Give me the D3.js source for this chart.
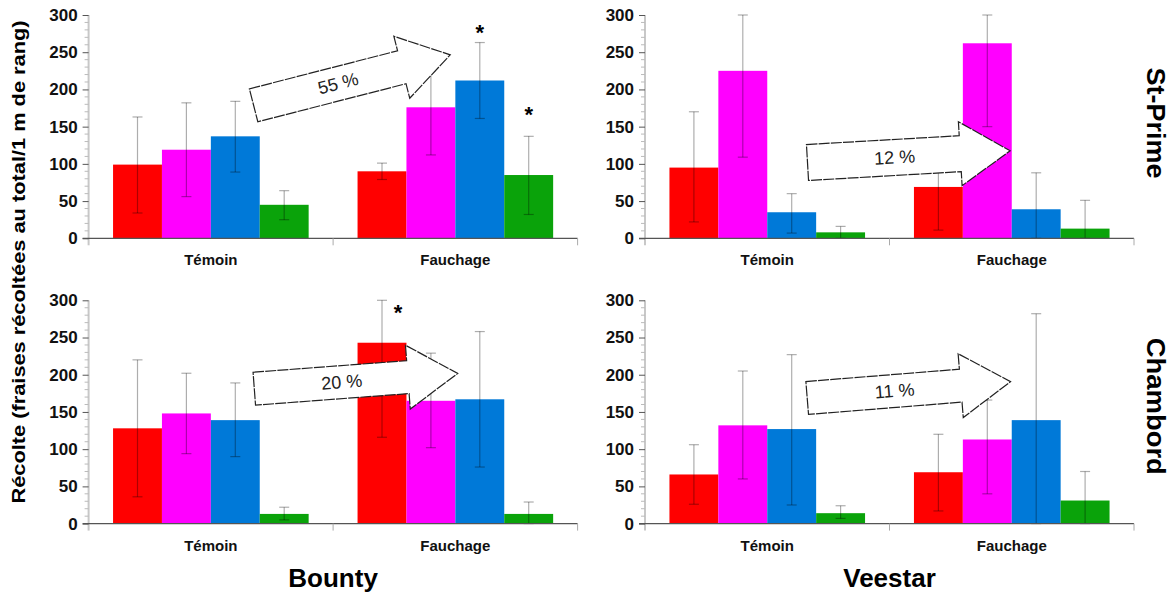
<!DOCTYPE html>
<html>
<head>
<meta charset="utf-8">
<script src="https://cdn.jsdelivr.net/npm/d3@7"></script>
<style>
  body { margin: 0; background: #fff; }
  svg { font-family: "Liberation Sans", Arial, sans-serif; }
</style>
</head>
<body>
<svg id="chart" width="1173" height="596"></svg>
<script>
const groups = ["Témoin", "Fauchage"];
const series = ["s1", "s2", "s3", "s4"];
const cultivars = ["Bounty", "Veestar"];
const sites = ["St-Prime", "Chambord"];
const yTicks = [0, 50, 100, 150, 200, 250, 300];

// mean harvest per group (Témoin, Fauchage) x series, and error bar ends
const stPrimeBounty = [[99, 119, 137, 45], [90, 176, 212, 85]];
const stPrimeBountyLow = [[34, 56, 89, 25], [79, 112, 161, 32]];
const stPrimeBountyHigh = [[163, 182, 184, 64], [101, 225, 263, 137]];

const stPrimeVeestar = [[95, 225, 35, 8], [69, 262, 39, 13]];
const stPrimeVeestarLow = [[22, 109, 7, 0], [11, 150, 0, 0]];
const stPrimeVeestarHigh = [[170, 300, 60, 16], [95, 300, 88, 51]];

const chambordBounty = [[128, 148, 139, 13], [243, 165, 167, 13]];
const chambordBountyLow = [[36, 94, 90, 5], [116, 102, 76, 0]];
const chambordBountyHigh = [[220, 202, 189, 22], [300, 229, 258, 29]];

const chambordVeestar = [[66, 132, 127, 14], [69, 113, 139, 31]];
const chambordVeestarLow = [[26, 60, 25, 7], [17, 40, 0, 0]];
const chambordVeestarHigh = [[106, 205, 227, 24], [120, 166, 282, 70]];

const gains = ["55 %", "12 %", "20 %", "11 %"];

// significance stars: [group, series index, y value]
const stPrimeBountyStars = [["Fauchage", 2, 282], ["Fauchage", 3, 172]];
const chambordBountyStars = [["Fauchage", 0, 290]];

const colors = ["#ff0000", "#ff00ff", "#0079d8", "#0aa30a"];

// layout
const W = 489, H = 223.3;
const colX = [88.6, 645];
const rowY = [15, 300.3];

// arrows drawn in panel pixels: tail centre, angle, length
const arrowLayout = [
  { tx: 165, ty: 90.3, ang: -14.4, len: 203, hw: 17 },
  { tx: 162.5, ty: 147.5, ang: -3.3, len: 203, hw: 18 },
  { tx: 165.7, ty: 88.4, ang: -4.3, len: 204, hw: 16.5 },
  { tx: 162.2, ty: 97.7, ang: -4.6, len: 204, hw: 16.5 }
];

const panels = [
  { mean: stPrimeBounty, low: stPrimeBountyLow, high: stPrimeBountyHigh, stars: stPrimeBountyStars },
  { mean: stPrimeVeestar, low: stPrimeVeestarLow, high: stPrimeVeestarHigh, stars: [] },
  { mean: chambordBounty, low: chambordBountyLow, high: chambordBountyHigh, stars: chambordBountyStars },
  { mean: chambordVeestar, low: chambordVeestarLow, high: chambordVeestarHigh, stars: [] }
];

const svg = d3.select("#chart");

const x0 = d3.scaleBand().domain(groups).range([0, W]);
const x1 = d3.scaleBand().domain(series).range([0, x0.bandwidth()]).paddingOuter(0.5);
const y = d3.scaleLinear().domain([0, 300]).range([H, 0]);

panels.forEach((p, i) => {
  const row = Math.floor(i / 2), col = i % 2;
  const g = svg.append("g").attr("transform", `translate(${colX[col]},${rowY[row]})`);

  // flat list of bars
  const bars = [];
  groups.forEach((grp, gi) => series.forEach((s, si) => {
    bars.push({ grp, s, si, v: p.mean[gi][si], lo: p.low[gi][si], hi: p.high[gi][si] });
  }));

  const cx = d => x0(d.grp) + x1(d.s) + x1.bandwidth() / 2;

  g.selectAll("rect.bar")
    .data(bars)
    .enter()
    .append("rect")
    .attr("class", "bar")
    .attr("x", d => x0(d.grp) + x1(d.s))
    .attr("y", d => y(d.v))
    .attr("width", x1.bandwidth())
    .attr("height", d => H - y(d.v))
    .attr("fill", (d) => colors[d.si]);

  // error bars
  const eb = g.selectAll("g.err").data(bars).enter().append("g")
    .attr("stroke", "#000").attr("stroke-opacity", 0.32).attr("stroke-width", 1.2);
  eb.append("line")
    .attr("x1", cx).attr("x2", cx)
    .attr("y1", d => y(d.lo)).attr("y2", d => y(d.hi));
  eb.append("line")
    .attr("x1", d => cx(d) - 5).attr("x2", d => cx(d) + 5)
    .attr("y1", d => y(d.hi)).attr("y2", d => y(d.hi));
  eb.append("line")
    .attr("x1", d => cx(d) - 5).attr("x2", d => cx(d) + 5)
    .attr("y1", d => y(d.lo)).attr("y2", d => y(d.lo));

  // stars
  g.selectAll("text.star")
    .data(p.stars)
    .enter()
    .append("text")
    .attr("class", "star")
    .attr("x", d => x0(d[0]) + x1(series[d[1]]) + x1.bandwidth() / 2 + (i == 2 ? 16 : 0))
    .attr("y", d => y(d[2]) + 12)
    .attr("text-anchor", "middle")
    .attr("font-size", 22)
    .attr("font-weight", "bold")
    .text("*");

  // y axis: light line, minor ticks, major ticks
  g.append("line")
    .attr("x1", 0).attr("x2", 0).attr("y1", 0).attr("y2", H + 7)
    .attr("stroke", "#c8c8c8").attr("stroke-width", 2);

  g.selectAll("line.minor")
    .data(d3.range(10, 300, 10).filter(v => v % 50 != 0))
    .enter()
    .append("line")
    .attr("x1", -4).attr("x2", 0)
    .attr("y1", d => y(d)).attr("y2", d => y(d))
    .attr("stroke", "#bbb");

  const ya = g.append("g")
    .call(d3.axisLeft(y).tickValues(yTicks).tickSize(6).tickPadding(5));
  ya.select(".domain").remove();
  ya.selectAll(".tick line").attr("stroke", "#555");
  ya.selectAll(".tick text")
    .attr("font-family", "Liberation Sans, Arial, sans-serif")
    .attr("font-size", 17)
    .attr("font-weight", "bold")
    .attr("fill", "#111");

  // baseline with group separators
  g.append("line")
    .attr("x1", -6).attr("x2", W).attr("y1", H).attr("y2", H)
    .attr("stroke", "#555").attr("stroke-width", 1.3);
  g.selectAll("line.sep")
    .data(groups)
    .enter()
    .append("line")
    .attr("x1", d => x0(d) + x0.bandwidth()).attr("x2", d => x0(d) + x0.bandwidth())
    .attr("y1", H).attr("y2", H + 7)
    .attr("stroke", "#aaa");

  g.selectAll("text.cat")
    .data(groups)
    .enter()
    .append("text")
    .attr("x", d => x0(d) + x0.bandwidth() / 2)
    .attr("y", H + 27)
    .attr("text-anchor", "middle")
    .attr("font-size", 15)
    .attr("font-weight", "bold")
    .attr("fill", "#111")
    .text(d => d);

  // block arrow with the gain
  const a = arrowLayout[i];
  const hl = 50, HW = 32, L = a.len;
  const pts = [[0, -a.hw], [L - hl, -a.hw], [L - hl, -HW], [L, 0], [L - hl, HW], [L - hl, a.hw], [0, a.hw]];
  const ag = g.append("g").attr("transform", `translate(${a.tx},${a.ty}) rotate(${a.ang})`);
  ag.append("polygon")
    .attr("points", pts.map(q => q.join(",")).join(" "))
    .attr("fill", "#fff")
    .attr("stroke", "#222")
    .attr("stroke-width", 1.2)
    .attr("stroke-dasharray", "11,1.2");
  ag.append("text")
    .attr("x", L * 0.43)
    .attr("y", 6)
    .attr("text-anchor", "middle")
    .attr("font-size", 18)
    .attr("fill", "#222")
    .text(gains[i]);
});

// column titles
svg.selectAll("text.cult")
  .data(cultivars)
  .enter()
  .append("text")
  .attr("x", (d, i) => colX[i] + W / 2)
  .attr("y", 587)
  .attr("text-anchor", "middle")
  .attr("font-size", 26)
  .attr("font-weight", "bold")
  .text(d => d);

// row titles on the right
const siteLen = [111, 137];
svg.selectAll("text.site")
  .data(sites)
  .enter()
  .append("text")
  .attr("transform", (d, i) => `translate(1147,${rowY[i] + 108 + (i == 1 ? -2 : 0)}) rotate(90)`)
  .attr("text-anchor", "middle")
  .attr("font-size", 25)
  .attr("font-weight", "bold")
  .attr("textLength", (d, i) => siteLen[i])
  .attr("lengthAdjust", "spacingAndGlyphs")
  .text(d => d);

// y title
svg.append("text")
  .attr("transform", "translate(25,262) rotate(-90)")
  .attr("text-anchor", "middle")
  .attr("font-size", 19)
  .attr("font-weight", "bold")
  .attr("textLength", 483)
  .attr("lengthAdjust", "spacingAndGlyphs")
  .text("Récolte (fraises récoltées au total/1 m de rang)");
</script>
</body>
</html>
